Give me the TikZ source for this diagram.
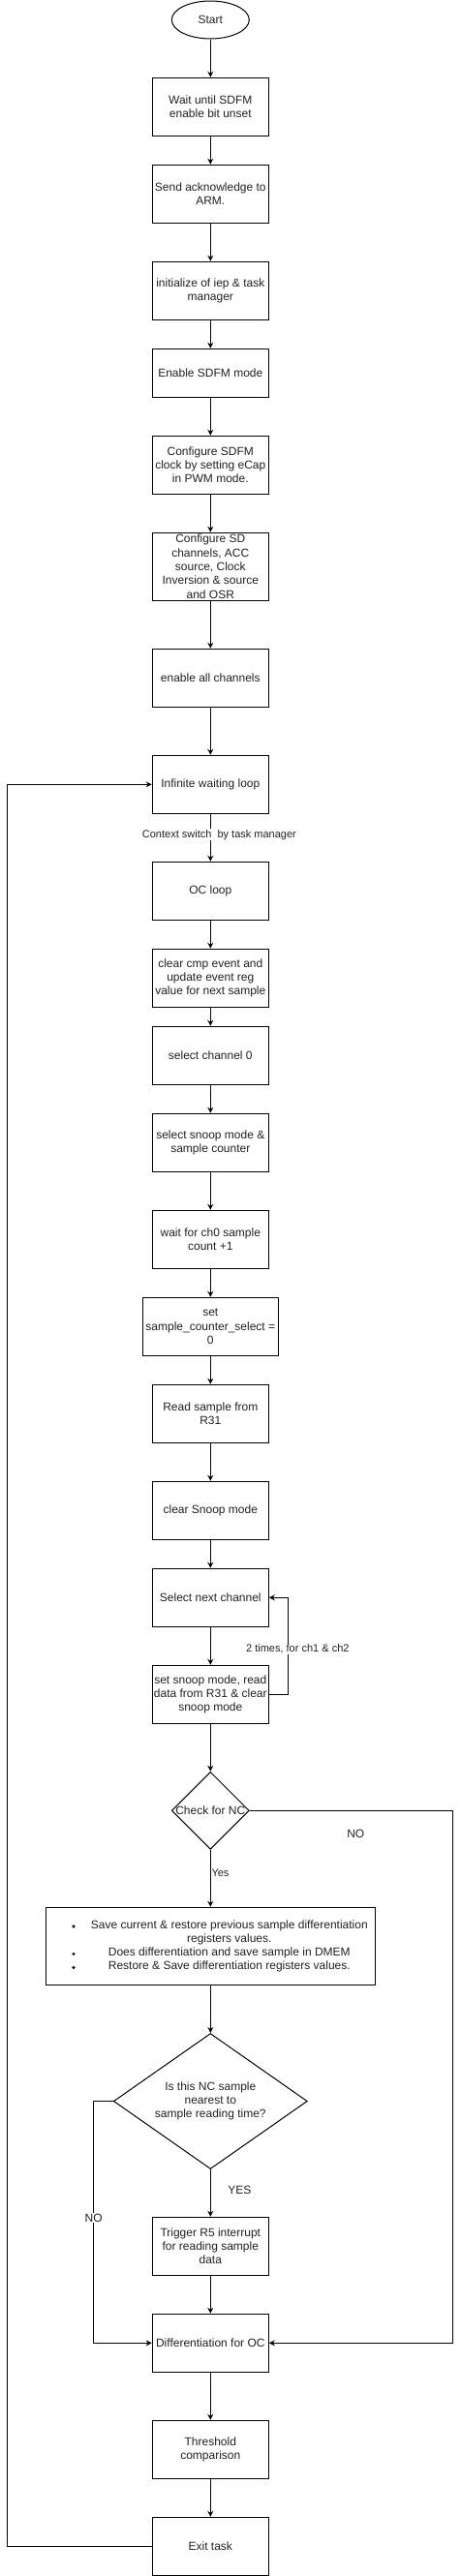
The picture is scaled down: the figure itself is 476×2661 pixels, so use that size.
\documentclass[tikz,border=0pt]{standalone}
\usepackage{fontspec}
\setmainfont{Liberation Sans}
\usetikzlibrary{shapes.geometric,arrows.meta}
\definecolor{textc}{HTML}{222222}
\tikzset{
  box/.style={draw, line width=1pt, minimum width=120pt, minimum height=60pt,
    align=center, inner sep=1pt, text=textc, font=\fontsize{12pt}{14.3pt}\selectfont},
  dia/.style={diamond, draw, line width=1pt, inner sep=0pt},
  txt/.style={align=center, inner sep=0pt, text=textc, font=\fontsize{12pt}{14.3pt}\selectfont},
  arr/.style={line width=1pt, -{Stealth[length=6pt,width=6pt]}},
  lbl/.style={inner sep=1pt, text=textc, font=\fontsize{11pt}{13pt}\selectfont},
  lblb/.style={inner sep=1pt, text=textc, font=\fontsize{12pt}{14pt}\selectfont},
}
\begin{document}
\begin{tikzpicture}[x=1pt,y=-1pt]
\useasboundingbox (0,0) rectangle (476,2661);

\node[ellipse, draw, line width=1pt, minimum width=80pt, minimum height=39pt, inner sep=0pt, text=textc,
  font=\fontsize{12pt}{14.3pt}\selectfont] (start) at (217.3,20.5) {Start};
\node[box] (b1) at (217.3,110.3) {Wait until SDFM\\enable bit unset};
\node[box] (b2) at (217.3,200.3) {Send acknowledge to\\ARM.};
\node[box] (b3) at (217.3,300.3) {initialize of iep \& task\\manager};
\node[box, minimum height=50pt] (b4) at (217.3,385.3) {Enable SDFM mode};
\node[box] (b5) at (217.3,480.3) {Configure SDFM\\clock by setting eCap\\in PWM mode.};
\node[box, minimum height=70pt] (b6) at (217.3,585.3) {Configure SD\\channels, ACC\\source, Clock\\Inversion \& source\\and OSR};
\node[box] (b7) at (217.3,700.3) {enable all channels};
\node[box] (b8) at (217.3,810.3) {Infinite waiting loop};
\node[box] (b9) at (217.3,920.3) {OC loop};
\node[box] (b10) at (217.3,1010.3) {clear cmp event and\\update event reg\\value for next sample};
\node[box] (b11) at (217.3,1090.3) {select channel 0};
\node[box] (b12) at (217.3,1180.3) {select snoop mode \&\\sample counter};
\node[box] (b13) at (217.3,1280.3) {wait for ch0 sample\\count +1};
\node[box, minimum width=140pt] (b14) at (217.3,1370.3) {set\\sample\_counter\_select =\\0};
\node[box] (b15) at (217.3,1460.3) {Read sample from\\R31};
\node[box] (b16) at (217.3,1560.3) {clear Snoop mode};
\node[box] (b17) at (217.3,1650.3) {Select next channel};
\node[box] (b18) at (217.3,1750.3) {set snoop mode, read\\data from R31 \& clear\\snoop mode};

\node[dia, minimum width=80pt, minimum height=80pt] (d1) at (217.3,1870.3) {};
\node[txt] (d1t) at (d1.center) {Check for NC};

\node[box, minimum width=340pt, minimum height=80pt] (bul) at (217.3,2010.3) {};
\node[txt, font=\fontsize{12pt}{14.2pt}\selectfont] (bult) at (236.8,2010.3)
  {Save current \& restore previous sample differentiation\\registers values.\\Does differentiation and save sample in DMEM\\Restore \& Save differentiation registers values.};
\fill[textc] (76,1990) circle (1.8pt);
\fill[textc] (76,2018.3) circle (1.8pt);
\fill[textc] (76,2032.5) circle (1.8pt);

\node[dia, minimum width=200pt, minimum height=140pt] (d2) at (217.3,2170.5) {};
\node[txt] (d2t) at (d2.center) {Is this NC sample\\nearest to\\sample reading time?};

\node[box] (b19) at (217.3,2320.3) {Trigger R5 interrupt\\for reading sample\\data};
\node[box] (b20) at (217.3,2420.3) {Differentiation for OC};
\node[box] (b21) at (217.3,2530.3) {Threshold\\comparison};
\node[box] (b22) at (217.3,2630.3) {Exit task};

% main vertical flow
\draw[arr] (start) -- (b1);
\draw[arr] (b1) -- (b2);
\draw[arr] (b2) -- (b3);
\draw[arr] (b3) -- (b4);
\draw[arr] (b4) -- (b5);
\draw[arr] (b5) -- (b6);
\draw[arr] (b6) -- (b7);
\draw[arr] (b7) -- (b8);
\draw[arr] (b8) -- (b9);
\draw[arr] (b9) -- (b10);
\draw[arr] (b10) -- (b11);
\draw[arr] (b11) -- (b12);
\draw[arr] (b12) -- (b13);
\draw[arr] (b13) -- (b14);
\draw[arr] (b14) -- (b15);
\draw[arr] (b15) -- (b16);
\draw[arr] (b16) -- (b17);
\draw[arr] (b17) -- (b18);
\draw[arr] (b18) -- (d1);
\draw[arr] (d1.south) -- (bul);
\draw[arr] (bul) -- (d2.north);
\draw[arr] (d2.south) -- (b19);
\draw[arr] (b19) -- (b20);
\draw[arr] (b20) -- (b21);
\draw[arr] (b21) -- (b22);

% loops
\draw[arr] (b18.east) -- ++(20,0) |- (b17.east);
\coordinate (rno) at (467.3,1870.3);
\draw[arr] (d1.east) -- (rno) |- (b20.east);
\draw[arr] (d2.west) -- ++(-20,0) |- (b20.west);
\coordinate (lx) at (7.3,2630.3);
\draw[arr] (b22.west) -- (lx) |- (b8.west);

% labels
\node[lbl, fill=white] (l1) at (226.4,862.3) {Context switch\ \ by task manager};
\node[lbl, fill=white] (l2) at (307.3,1703.3) {2 times, for ch1 \& ch2};
\node[lbl] (l3) at (227.5,1934.3) {Yes};
\node[lblb] (l4) at (367.3,1894.7) {NO};
\node[lblb] (l5) at (247.3,2262.3) {YES};
\node[lblb, fill=white] (l6) at (96.7,2291) {NO};
\end{tikzpicture}
\end{document}
